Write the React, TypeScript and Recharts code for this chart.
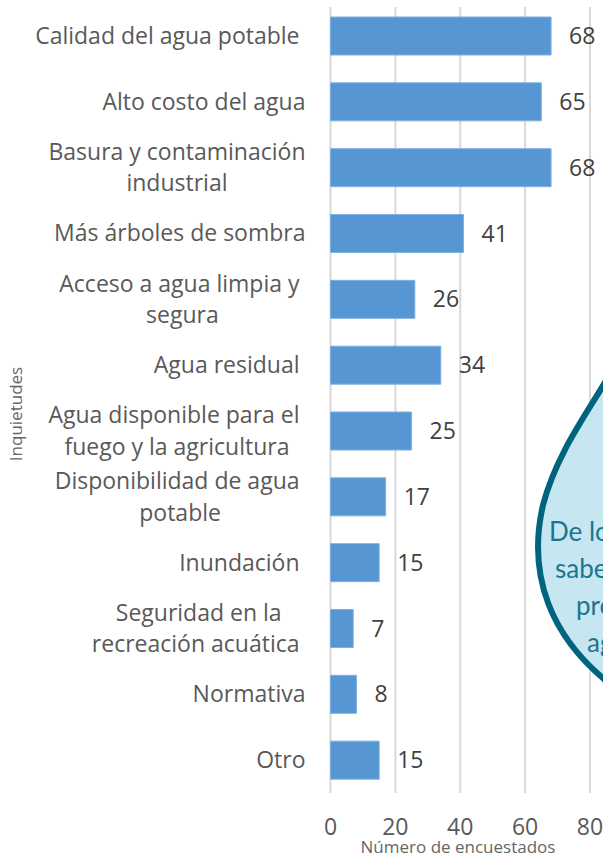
import { BarChart, Bar, XAxis, YAxis, CartesianGrid, LabelList } from "recharts";

const FONT = "'Open Sans', sans-serif";
const LABEL_SIZE = 23;

// a trailing space is kept where the label sits further left in the source
const categories = [
  "Calidad del agua potable ",
  "Alto costo del agua",
  "Basura y contaminación|industrial",
  "Más árboles de sombra",
  "Acceso a agua limpia y |segura",
  "Agua residual ",
  "Agua disponible para el |fuego y la agricultura",
  "Disponibilidad de agua |potable",
  "Inundación ",
  "Seguridad en la|recreación acuática ",
  "Normativa",
  "Otro",
];
const respondents = [68, 65, 68, 41, 26, 34, 25, 17, 15, 7, 8, 15];
const xTicks = [0, 20, 40, 60, 80];
const calloutLines = ["De los", "saben", "pro", "agua"];

const data = categories.map((name, i) => ({ name, value: respondents[i] }));

const canvas = document.createElement("canvas").getContext("2d");

function textWidth(s: string) {
  if (!canvas) return 0;
  canvas.font = `${LABEL_SIZE}px 'Open Sans'`;
  return canvas.measureText(s).width;
}

const CategoryTick = ({ x, y, payload }: any) => {
  const lines: string[] = payload.value.split("|");
  const widest = Math.max(...lines.map(textWidth));
  const center = x + 6 - widest / 2;
  const lineHeight = 31.5;
  const first = y - ((lines.length - 1) * lineHeight) / 2;
  return (
    <text
      textAnchor="middle"
      fontFamily={FONT}
      fontSize={LABEL_SIZE}
      fill="#595959"
      style={{ whiteSpace: "pre" }}
    >
      {lines.map((line, i) => (
        <tspan key={i} x={center} y={first + i * lineHeight} dy="0.35em">
          {line}
        </tspan>
      ))}
    </text>
  );
};

export default function App() {
  return (
    <div
      style={{
        position: "absolute",
        left: 0,
        top: 0,
        width: 603,
        height: 856,
        overflow: "hidden",
        background: "#fff",
      }}
    >
      <BarChart
        width={603}
        height={856}
        data={data}
        layout="vertical"
        barSize={38}
        margin={{ top: 3, right: 13, bottom: 0, left: 0 }}
      >
        <CartesianGrid horizontal={false} stroke="#d9d9d9" strokeWidth={2} />
        <XAxis
          type="number"
          domain={[0, 80]}
          ticks={xTicks}
          height={63}
          axisLine={false}
          tickLine={false}
          tickMargin={20}
          tick={{ fill: "#595959", fontSize: LABEL_SIZE, fontFamily: FONT }}
        />
        <YAxis
          type="category"
          dataKey="name"
          width={330.5}
          axisLine={false}
          tickLine={false}
          tickMargin={25}
          interval={0}
          tick={<CategoryTick />}
        />
        <Bar dataKey="value" fill="#5596d3" stroke="#7fb0df" isAnimationActive={false}>
          <LabelList
            dataKey="value"
            position="right"
            offset={18}
            fill="#404040"
            fontSize={LABEL_SIZE}
            fontFamily={FONT}
          />
        </Bar>
      </BarChart>

      <svg
        width={603}
        height={856}
        style={{ position: "absolute", left: 0, top: 0 }}
        fontFamily={FONT}
      >
        <rect x={320} y={0} width={283} height={7} fill="#fff" />
        <path
          d="M 625 345 C 605 392 560 440 543 505 C 528 570 545 640 625 695 Z"
          fill="#c6e7f1"
          stroke="#00647f"
          strokeWidth={6}
        />
        {calloutLines.map((line, i) => (
          <text
            key={line}
            x={[549, 555, 576, 587][i]}
            y={[541, 578, 615, 652][i]}
            fontSize={26}
            fontFamily="Lato, sans-serif"
            fill="#1b7690"
          >
            {line}
          </text>
        ))}
        <text x={458} y={853} textAnchor="middle" fontSize={17} fill="#666666">
          Número de encuestados
        </text>
        <text
          transform="translate(22 414) rotate(-90)"
          textAnchor="middle"
          fontSize={17}
          fill="#666666"
        >
          Inquietudes
        </text>
      </svg>
    </div>
  );
}
